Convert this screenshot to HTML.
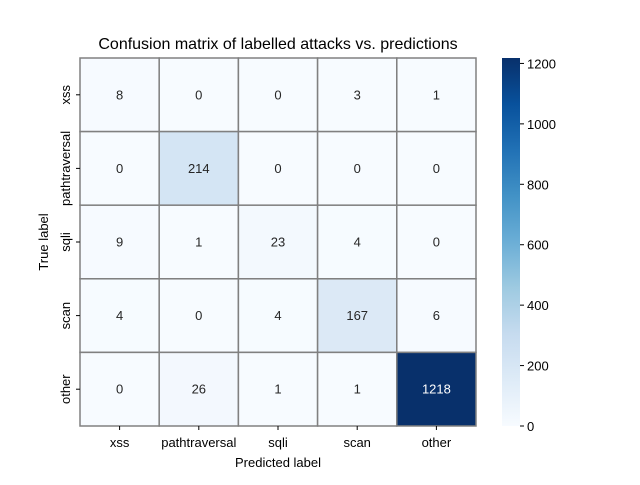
<!DOCTYPE html>
<html><head><meta charset="utf-8"><style>
body{margin:0;background:#fff}
svg text{font-family:"Liberation Sans","DejaVu Sans",sans-serif;}
</style></head><body>
<svg id="chart" width="640" height="480" viewBox="0 0 640 480">
<defs><linearGradient id="cb" x1="0" y1="1" x2="0" y2="0">
<stop offset="0" stop-color="#f7fbff"/><stop offset="0.125" stop-color="#deebf7"/><stop offset="0.25" stop-color="#c6dbef"/><stop offset="0.375" stop-color="#9ecae1"/><stop offset="0.5" stop-color="#6baed6"/><stop offset="0.625" stop-color="#4292c6"/><stop offset="0.75" stop-color="#2171b5"/><stop offset="0.875" stop-color="#08519c"/><stop offset="1" stop-color="#08306b"/></linearGradient></defs>
<text x="278" y="49" text-anchor="middle" font-size="16">Confusion matrix of labelled attacks vs. predictions</text>
<g id="cells"></g>
<rect x="502" y="58" width="18" height="368" fill="url(#cb)"/>
<g id="cbticks"></g>
<text x="278" y="467" text-anchor="middle" font-size="13">Predicted label</text>
<text transform="translate(48,242) rotate(-90)" text-anchor="middle" font-size="13">True label</text>
</svg>
<script>
const labels=["xss","pathtraversal","sqli","scan","other"];
const row0=[8,0,0,3,1];
const row1=[0,214,0,0,0];
const row2=[9,1,23,4,0];
const row3=[4,0,4,167,6];
const row4=[0,26,1,1,1218];
const matrix=[row0,row1,row2,row3,row4];
const cbTicks=[0,200,400,600,800,1000,1200];
const NS="http://www.w3.org/2000/svg";
const L=80,T=58,W=396,H=368,n=labels.length,cw=W/n,ch=H/n;
const vmax=Math.max(...matrix.flat());
const stops=["#f7fbff","#deebf7","#c6dbef","#9ecae1","#6baed6","#4292c6","#2171b5","#08519c","#08306b"].map(h=>[1,3,5].map(i=>parseInt(h.substr(i,2),16)));
function color(v){let t=Math.max(0,Math.min(1,v/vmax))*8,i=Math.min(7,Math.floor(t)),f=t-i;
const c=stops[i].map((a,k)=>Math.round(a+(stops[i+1][k]-a)*f));return [`rgb(${c})`,(0.299*c[0]+0.587*c[1]+0.114*c[2])<128];}
const xPos=j=>L+j*cw, yPos=i=>T+i*ch, cbY=v=>T+H-v/vmax*H;
const g=document.getElementById("cells"),svg=document.getElementById("chart");
function mk(tag,a,p){const e=document.createElementNS(NS,tag);for(const k in a)e.setAttribute(k,a[k]);(p||g).appendChild(e);return e;}
matrix.forEach((row,i)=>row.forEach((v,j)=>{
 const [c,dark]=color(v);
 const r=mk("rect",{x:xPos(j),y:yPos(i),width:cw,height:ch,fill:c,stroke:"#808080","stroke-width":1.5});
 
 
 const t=mk("text",{x:xPos(j)+cw/2,y:yPos(i)+ch/2+4.5,"text-anchor":"middle","font-size":13,fill:dark?"#fff":"#262626"});
 t.textContent=v;
 
 
}));
labels.forEach((lab,j)=>{
 mk("line",{x1:xPos(j)+cw/2,x2:xPos(j)+cw/2,y1:T+H,y2:T+H+4,stroke:"#000"});
 const t=mk("text",{x:xPos(j)+cw/2,y:T+H+21,"text-anchor":"middle","font-size":13});t.textContent=lab;
 
 
 mk("line",{x1:L-4,x2:L,y1:yPos(j)+ch/2,y2:yPos(j)+ch/2,stroke:"#000"});
 const y=mk("text",{transform:`translate(${L-10},${yPos(j)+ch/2}) rotate(-90)`,"text-anchor":"middle","font-size":13});y.textContent=lab;
 
 
});
const cg=document.getElementById("cbticks");
cbTicks.forEach(v=>{
 mk("line",{x1:520,x2:524,y1:cbY(v),y2:cbY(v),stroke:"#000"},cg);
 const t=mk("text",{x:527,y:cbY(v)+5,"font-size":13},cg);t.textContent=v;
 
 
});
</script>
</body></html>
